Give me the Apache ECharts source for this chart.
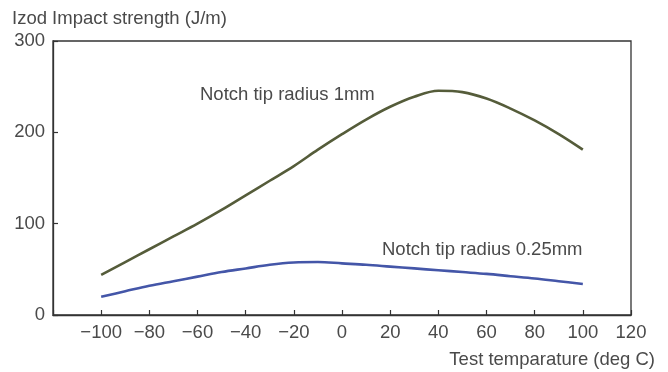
<!DOCTYPE html>
<html>
<head>
<meta charset="utf-8">
<script src="https://cdn.jsdelivr.net/npm/echarts@6/dist/echarts.min.js"></script>
<style>html,body{margin:0;padding:0;background:#fff;}#c{width:668px;height:372px;}</style>
</head>
<body>
<div id="c"></div>
<script>
var temps = [-100,-90,-80,-70,-60,-50,-40,-30,-20,-10,0,10,20,30,40,50,60,70,80,90,100];
var radius1mm = [44,58,72,86,100,115,131,147,163,181,198,214,228,239,245.5,244,237,226,213,198,181];
var radius025mm = [20,26,32,37,42,47,51,55,57.5,58,56.5,55,53,51,49,47,45,42.5,40,37,34];
var xTicks = [-100,-80,-60,-40,-20,0,20,40,60,80,100,120];
var yTicks = [0,100,200,300];
var seriesNames = ['Notch tip radius 1mm','Notch tip radius 0.25mm'];
var yTitle = 'Izod Impact strength (J/m)';
var xTitle = 'Test temparature (deg C)';

function pairs(xs, ys){ return xs.map(function(x,i){ return [x, ys[i]]; }); }
var FONT = '"Liberation Sans", Arial, sans-serif';
var FS = 18.5;
var TXT = '#4a4a4a';
var chart = echarts.init(document.getElementById('c'), null, {renderer:'canvas'});
chart.setOption({
  animation:false,
  backgroundColor:'#fff',
  grid:{left:53, top:41, right:37, bottom:57, show:true, borderColor:'#333', borderWidth:1.3, backgroundColor:'transparent'},
  xAxis:{
    type:'value', min:-120, max:120, interval:20,
    axisLine:{show:true, onZero:false, lineStyle:{color:'#333', width:1.3}},
    axisTick:{show:true, inside:true, length:5, lineStyle:{color:'#333', width:1.2}},
    splitLine:{show:false},
    axisLabel:{color:TXT, fontFamily:FONT, fontSize:FS, margin:8,
      formatter:function(v){ if(xTicks.indexOf(v)<0) return ''; return v<0 ? '\u2212'+Math.abs(v) : String(v); }}
  },
  yAxis:{
    type:'value', min:0, max:300, interval:100,
    axisLine:{show:true, onZero:false, lineStyle:{color:'#333', width:1.3}},
    axisTick:{show:true, inside:true, length:5, lineStyle:{color:'#333', width:1.2}},
    splitLine:{show:false},
    axisLabel:{color:TXT, fontFamily:FONT, fontSize:FS, margin:8,
      formatter:function(v){ return yTicks.indexOf(v)<0 ? '' : String(v); }}
  },
  series:[
    {type:'line', name:seriesNames[0], data:pairs(temps, radius1mm), smooth:0.35, symbol:'none',
     lineStyle:{color:'#555c3a', width:2.6}},
    {type:'line', name:seriesNames[1], data:pairs(temps, radius025mm), smooth:0.35, symbol:'none',
     lineStyle:{color:'#4456a8', width:2.6}}
  ],
  graphic:[
    {type:'text', left:12, top:9, style:{text:yTitle, fill:TXT, font:FS+'px '+FONT}},
    {type:'text', right:13, top:350, style:{text:xTitle, fill:TXT, font:FS+'px '+FONT}},
    {type:'text', left:200, top:85, style:{text:seriesNames[0], fill:TXT, font:FS+'px '+FONT}},
    {type:'text', left:382, top:240, style:{text:seriesNames[1], fill:TXT, font:FS+'px '+FONT}}
  ]
});
</script>
</body>
</html>
